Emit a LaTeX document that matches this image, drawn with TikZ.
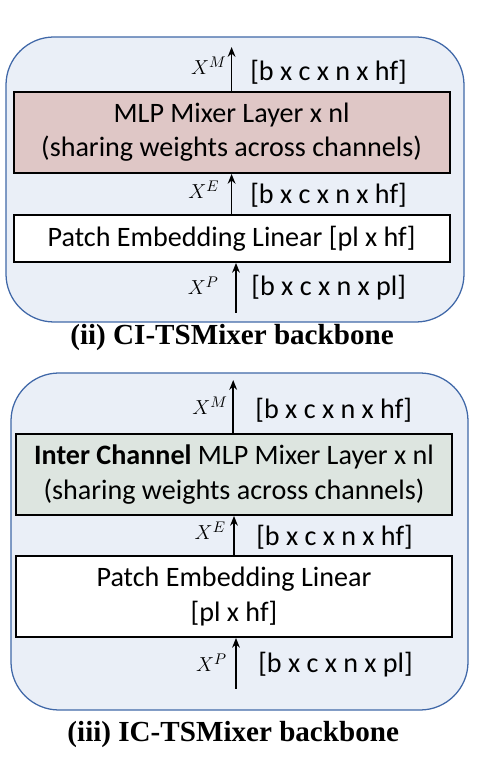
\documentclass[tikz,border=0pt]{standalone}
\usepackage{fontspec}
\setmainfont{Carlito}
\newfontfamily\capfont{Liberation Serif}
\usetikzlibrary{positioning,arrows.meta}
\definecolor{panelblue}{HTML}{EAEFF7}
\definecolor{paneledge}{HTML}{4068A8}
\definecolor{mixerpink}{HTML}{DFC7C6}
\definecolor{mixergreen}{HTML}{DDE5E0}
\tikzset{
	panel/.style={draw=paneledge, line width=0.9pt, fill=panelblue, rounded corners=1.2cm},
	layerbox/.style={draw=black, line width=1.4pt, minimum width=10.9cm, align=center, inner sep=0pt, font=\fontsize{20}{24.5}\selectfont},
	flow/.style={-{Stealth[length=7pt,width=5.5pt]}, line width=1.2pt},
	dimlabel/.style={font=\fontsize{20}{24}\selectfont, anchor=west, inner sep=0pt},
	varlabel/.style={font=\fontsize{15.5}{18}\selectfont, anchor=east, inner sep=0pt},
	caption/.style={font=\capfont\bfseries\fontsize{20.7}{24}\selectfont}
}
\begin{document}
\begin{tikzpicture}
	\useasboundingbox (0,0) rectangle (12,19.2);
	
	% (ii) CI-TSMixer
	\draw[panel] (0.15,11.15) rectangle (11.6,18.275);
	\node[layerbox, fill=mixerpink, minimum height=2.025cm] (mixA) at (5.79,15.89) {MLP Mixer Layer x nl\\(sharing weights across channels)};
	\node[layerbox, fill=white, minimum height=1.175cm] (patchA) at (5.79,13.24) {Patch Embedding Linear [pl x hf]};
	\coordinate (outA) at (5.79,18.025);
	\coordinate (inA) at (5.9,11.375);
	\draw[flow] (mixA.north) -- (outA);
	\draw[flow] (patchA.north) -- (mixA.south);
	\draw[flow] (inA) -- (inA |- patchA.south);
	\node[varlabel] (xmA) at (5.67,17.55) {$X^M$};
	\node[dimlabel] (dmA) at (6.25,17.4) {[b x c x n x hf]};
	\node[varlabel] (xeA) at (5.49,14.45) {$X^E$};
	\node[dimlabel] (deA) at (6.25,14.33) {[b x c x n x hf]};
	\node[varlabel] (xpA) at (5.47,12.05) {$X^P$};
	\node[dimlabel] (dpA) at (6.28,12.0) {[b x c x n x pl]};
	\node[caption] (capA) at (5.8,10.75) {(ii) CI-TSMixer backbone};
	
	% (iii) IC-TSMixer
	\draw[panel] (0.275,1.45) rectangle (11.7,9.875);
	\node[layerbox, fill=mixergreen, minimum height=2.025cm] (mixB) at (5.85,7.34) {\textbf{Inter Channel} MLP Mixer Layer x nl\\(sharing weights across channels)};
	\node[layerbox, fill=white, minimum height=2.025cm] (patchB) at (5.85,4.29) {Patch Embedding Linear\\{[pl x hf]}};
	\coordinate (outB) at (5.83,9.7);
	\coordinate (inB) at (5.9,1.975);
	\draw[flow] (mixB.north -| outB) -- (outB);
	\draw[flow] (patchB.north) -- (mixB.south);
	\draw[flow] (inB) -- (inB |- patchB.south);
	\node[varlabel] (xmB) at (5.7,9.05) {$X^M$};
	\node[dimlabel] (dmB) at (6.38,8.95) {[b x c x n x hf]};
	\node[varlabel] (xeB) at (5.65,5.93) {$X^E$};
	\node[dimlabel] (deB) at (6.4,5.78) {[b x c x n x hf]};
	\node[varlabel] (xpB) at (5.68,2.63) {$X^P$};
	\node[dimlabel] (dpB) at (6.45,2.58) {[b x c x n x pl]};
	\node[caption] (capB) at (5.83,0.825) {(iii) IC-TSMixer backbone};
\end{tikzpicture}
\end{document}
